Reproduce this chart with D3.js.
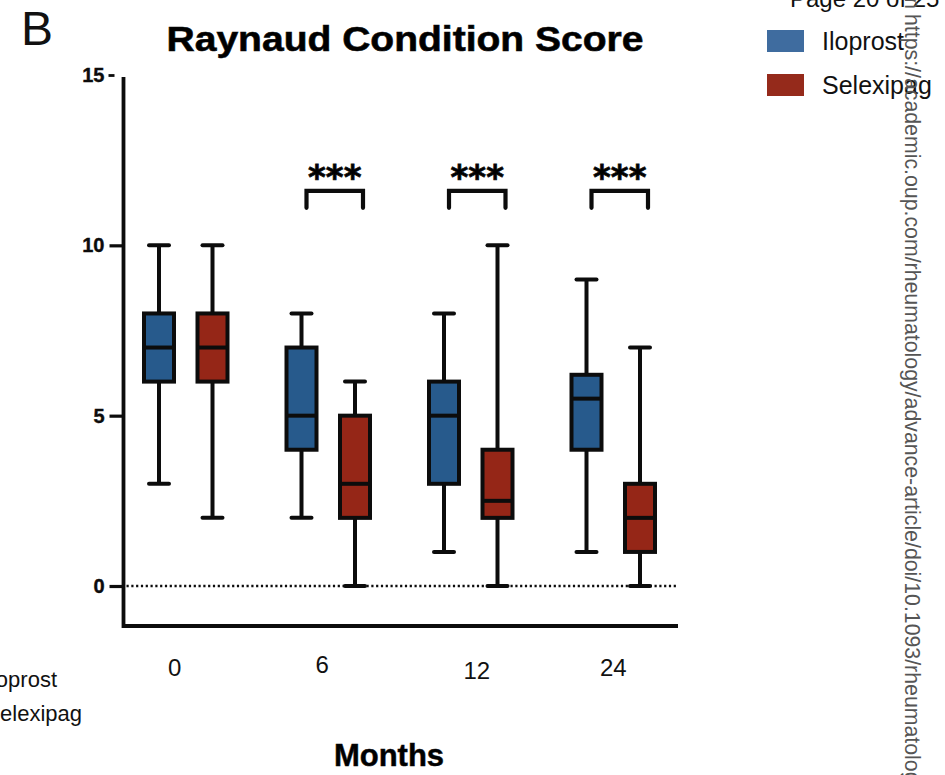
<!DOCTYPE html>
<html>
<head>
<meta charset="utf-8">
<script src="https://cdn.jsdelivr.net/npm/d3@7"></script>
<style>
  html, body { margin: 0; padding: 0; background: #fff; }
  svg { display: block; }
</style>
</head>
<body>
<svg id="chart" width="945" height="775"></svg>
<script>
// Raynaud Condition Score - grouped box plots by month, Iloprost vs Selexipag

const months = ['0', '6', '12', '24'];
const series = ['Iloprost', 'Selexipag'];

const iloprostMin    = [3, 2, 1, 1];
const iloprostQ1     = [6, 4, 3, 4];
const iloprostMedian = [7, 5, 5, 5.5];
const iloprostQ3     = [8, 7, 6, 6.2];
const iloprostMax    = [10, 8, 8, 9];

const selexipagMin    = [2, 0, 0, 0];
const selexipagQ1     = [6, 2, 2, 1];
const selexipagMedian = [7, 3, 2.5, 2];
const selexipagQ3     = [8, 5, 4, 3];
const selexipagMax    = [10, 6, 10, 7];

const significantMonths = ['6', '12', '24'];
const significanceLabel = '***';
const yTicks = [0, 5, 10, 15];

const colors = { Iloprost: '#275a8c', Selexipag: '#952617' };
const legendColors = { Iloprost: '#3f6c9f', Selexipag: '#952a1b' };

// build box rows from the arrays
const boxes = [];
months.forEach((m, i) => {
  boxes.push({ month: m, group: 'Iloprost', min: iloprostMin[i], q1: iloprostQ1[i], median: iloprostMedian[i], q3: iloprostQ3[i], max: iloprostMax[i] });
  boxes.push({ month: m, group: 'Selexipag', min: selexipagMin[i], q1: selexipagQ1[i], median: selexipagMedian[i], q3: selexipagQ3[i], max: selexipagMax[i] });
});

const svg = d3.select('#chart');
const font = '"Liberation Sans", Arial, Helvetica, sans-serif';
const ink = '#0c0c0c';

// scales
const x = d3.scaleBand().domain(months).range([114.5, 684.5]).padding(0);
const xInner = d3.scaleBand().domain(series).range([-53.5, 53.5]).padding(0);
const y = d3.scaleLinear().domain([0, 15]).range([586, 75]);
const axisLeftX = 123.5;
const axisBottomY = 626;
const axisRightX = 678;

const boxW = 30;
const capW = 20;
const sw = 4;

// page furniture
svg.append('text')
  .attr('x', 790).attr('y', 7)
  .attr('font-family', font).attr('font-size', 24).attr('fill', '#111')
  .text('Page 20 of 25');

svg.append('text')
  .attr('x', 21).attr('y', 45)
  .attr('font-family', font).attr('font-size', 48).attr('fill', '#111')
  .text('B');

svg.append('text')
  .attr('x', 166.5).attr('y', 51)
  .attr('font-family', font).attr('font-size', 35).attr('font-weight', 'bold')
  .attr('textLength', 477).attr('lengthAdjust', 'spacingAndGlyphs')
  .attr('stroke', ink).attr('stroke-width', 0.6)
  .text('Raynaud Condition Score');

// clipped legend leftovers at bottom-left
svg.append('text')
  .attr('x', 57).attr('y', 687).attr('text-anchor', 'end')
  .attr('font-family', font).attr('font-size', 22).attr('fill', '#111')
  .text('Iloprost');
svg.append('text')
  .attr('x', 82).attr('y', 721).attr('text-anchor', 'end')
  .attr('font-family', font).attr('font-size', 22).attr('fill', '#111')
  .text('Selexipag');

// dotted zero line
svg.append('line')
  .attr('x1', axisLeftX + 3).attr('x2', axisRightX)
  .attr('y1', y(0)).attr('y2', y(0))
  .attr('stroke', ink).attr('stroke-width', 2.4)
  .attr('stroke-dasharray', '2.2,2.6');

// y axis
const yAxis = svg.append('g')
  .attr('transform', `translate(${axisLeftX},0)`)
  .call(d3.axisLeft(y).tickValues(yTicks).tickSize(14).tickPadding(5));
yAxis.select('.domain').remove();
yAxis.selectAll('.tick line').attr('stroke', ink).attr('stroke-width', 3.2);
yAxis.selectAll('.tick text')
  .style('font-family', font).style('font-size', '20px').style('font-weight', 'bold')
  .attr('fill', ink).attr('stroke', ink).attr('stroke-width', 0.4);
// the top tick is a short detached dash in the original
yAxis.selectAll('.tick').filter(d => d === 15)
  .select('line').attr('x1', -9).attr('x2', -15).attr('stroke-width', 2.8);

svg.append('path')
  .attr('d', `M${axisLeftX},${y(15) + 2} V${axisBottomY} H${axisRightX}`)
  .attr('fill', 'none').attr('stroke', ink).attr('stroke-width', 3.8);

// x tick labels (no tick marks), slightly uneven like the source
const labelNudge = { '0': [-11, 0], '6': [-6, -3], '12': [6, 3], '24': [0, 0] };
svg.append('g').selectAll('text')
  .data(months)
  .join('text')
  .attr('x', d => x(d) + x.bandwidth() / 2 + labelNudge[d][0])
  .attr('y', d => 676 + labelNudge[d][1])
  .attr('text-anchor', 'middle')
  .attr('font-family', font).attr('font-size', 24).attr('fill', '#111')
  .text(d => d);

svg.append('text')
  .attr('x', 389).attr('y', 766)
  .attr('text-anchor', 'middle')
  .attr('font-family', font).attr('font-size', 31).attr('font-weight', 'bold')
  .attr('stroke', ink).attr('stroke-width', 0.5)
  .text('Months');

// boxes
const boxCenter = d => x(d.month) + x.bandwidth() / 2 + xInner(d.group) + xInner.bandwidth() / 2;
const bg = svg.append('g').selectAll('g')
  .data(boxes)
  .join('g')
  .attr('transform', d => `translate(${boxCenter(d)},0)`);

bg.append('line')
  .attr('x1', 0).attr('x2', 0)
  .attr('y1', d => y(d.max)).attr('y2', d => y(d.min))
  .attr('stroke', ink).attr('stroke-width', sw);

bg.append('line')
  .attr('x1', -capW / 2).attr('x2', capW / 2)
  .attr('y1', d => y(d.max)).attr('y2', d => y(d.max))
  .attr('stroke', ink).attr('stroke-width', sw).attr('stroke-linecap', 'round');

bg.append('line')
  .attr('x1', -capW / 2).attr('x2', capW / 2)
  .attr('y1', d => y(d.min)).attr('y2', d => y(d.min))
  .attr('stroke', ink).attr('stroke-width', sw).attr('stroke-linecap', 'round');

bg.append('rect')
  .attr('x', -boxW / 2).attr('width', boxW)
  .attr('y', d => y(d.q3)).attr('height', d => y(d.q1) - y(d.q3))
  .attr('fill', d => colors[d.group])
  .attr('stroke', ink).attr('stroke-width', sw);

bg.append('line')
  .attr('x1', -boxW / 2).attr('x2', boxW / 2)
  .attr('y1', d => y(d.median)).attr('y2', d => y(d.median))
  .attr('stroke', ink).attr('stroke-width', sw);

// significance brackets
const bracketTop = y(11.6);
const bracketLeg = y(11.1);
const sg = svg.append('g').selectAll('g')
  .data(significantMonths)
  .join('g');

sg.append('path')
  .attr('d', d => {
    const x0 = x(d) + x.bandwidth() / 2 + xInner('Iloprost') + xInner.bandwidth() / 2 + 5;
    const x1 = x(d) + x.bandwidth() / 2 + xInner('Selexipag') + xInner.bandwidth() / 2 + 8;
    return `M${x0},${bracketLeg} V${bracketTop} H${x1} V${bracketLeg}`;
  })
  .attr('fill', 'none').attr('stroke', ink).attr('stroke-width', 4.2)
  .attr('stroke-linecap', 'round');

sg.append('text')
  .attr('x', d => x(d) + x.bandwidth() / 2 + 6.5)
  .attr('y', bracketTop - 2)
  .attr('text-anchor', 'middle')
  .attr('font-family', '"DejaVu Sans", sans-serif').attr('font-size', 34).attr('font-weight', 'bold')
  .attr('stroke', ink).attr('stroke-width', 0.8)
  .text(significanceLabel);

// legend
const lg = svg.append('g').selectAll('g')
  .data(series)
  .join('g')
  .attr('transform', (d, i) => `translate(767,${30 + i * 44})`);
lg.append('rect')
  .attr('width', 37).attr('height', 22)
  .attr('fill', d => legendColors[d]);
lg.append('text')
  .attr('x', 55).attr('y', 20)
  .attr('font-family', font).attr('font-size', 25).attr('fill', '#111')
  .text(d => d);

// vertical download watermark
const wm = svg.append('g').attr('transform', 'translate(905,0) rotate(90)');
wm.append('text')
  .attr('x', 9).attr('y', 0).attr('text-anchor', 'end')
  .attr('font-family', font).attr('font-size', 21.3).attr('fill', '#555')
  .text('Downloaded from');
wm.append('text')
  .attr('x', 14).attr('y', 0)
  .attr('font-family', font).attr('font-size', 21.3).attr('fill', '#555')
  .text('https://academic.oup.com/rheumatology/advance-article/doi/10.1093/rheumatology/keae');
</script>
</body>
</html>
